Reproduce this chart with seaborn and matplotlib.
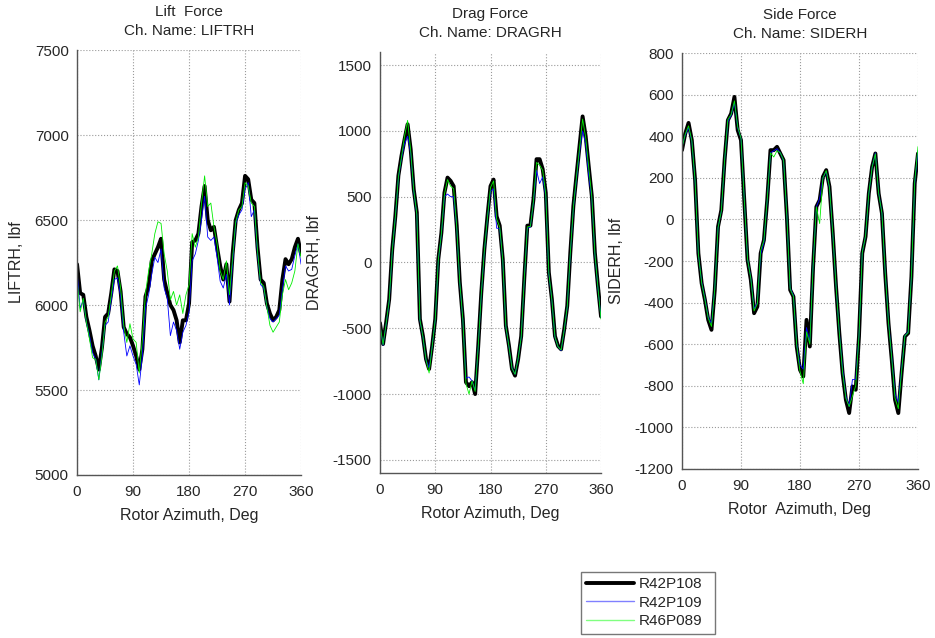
import matplotlib
matplotlib.use("Agg")
import matplotlib.pyplot as plt
from matplotlib.lines import Line2D
import seaborn as sns
import pandas as pd
import numpy as np

# Data (5 deg steps)
azimuth = list(range(0, 361, 5))
runs = ['R42P108', 'R42P109', 'R46P089']

lift_r42p108 = [6240, 6070, 6060, 5930, 5850, 5760, 5700, 5620, 5750, 5930, 5950, 6070, 6210,
                6200, 6080, 5870, 5830, 5810, 5760, 5700, 5620, 5740, 6050, 6110, 6260, 6300,
                6340, 6390, 6150, 6070, 6000, 5970, 5910, 5780, 5910, 5910, 6010, 6370, 6380,
                6420, 6580, 6700, 6500, 6440, 6460, 6340, 6230, 6150, 6240, 6020, 6300, 6500,
                6560, 6600, 6760, 6740, 6620, 6600, 6340, 6150, 6130, 6010, 5950, 5910, 5930,
                5970, 6150, 6270, 6240, 6270, 6340, 6390, 6300]
lift_r42p109 = [6200, 5980, 6030, 5900, 5820, 5720, 5680, 5560, 5720, 5880, 5900, 6030, 6150,
                6160, 6050, 5840, 5700, 5760, 5700, 5650, 5530, 5700, 5980, 6060, 6180, 6280,
                6250, 6330, 6100, 6040, 5820, 5900, 5850, 5740, 5840, 5880, 5960, 6260, 6300,
                6380, 6500, 6640, 6400, 6380, 6400, 6280, 6140, 6100, 6180, 6000, 6250, 6480,
                6530, 6560, 6680, 6720, 6520, 6560, 6300, 6120, 6100, 5990, 5920, 5900, 5920,
                5940, 6090, 6230, 6200, 6210, 6290, 6360, 6240]
lift_r46p089 = [6150, 5960, 6040, 5900, 5800, 5690, 5680, 5560, 5700, 5900, 5930, 6060, 6200,
                6230, 6100, 5880, 5780, 5890, 5800, 5780, 5600, 5800, 6070, 6200, 6300, 6420,
                6490, 6480, 6300, 6200, 6030, 6080, 6000, 6060, 5950, 6060, 6120, 6420, 6340,
                6400, 6600, 6760, 6580, 6600, 6460, 6360, 6200, 6150, 6260, 6060, 6280, 6490,
                6560, 6580, 6720, 6700, 6600, 6580, 6320, 6130, 6110, 5990, 5880, 5840, 5870,
                5900, 6060, 6150, 6090, 6130, 6200, 6360, 6280]

drag_r42p108 = [-460, -620, -457, -280, 100, 350, 660, 810, 935, 1050, 860, 555, 380,
                -430, -560, -735, -810, -635, -430, 25, 225, 530, 645, 620, 580, 280,
                -150, -430, -910, -940, -910, -1000, -635, -230, 100, 350, 580, 630, 350,
                280, 25, -480, -630, -810, -860, -735, -560, -125, 280, 280, 480, 785,
                785, 710, 530, -75, -280, -560, -635, -660, -510, -330, 75, 430, 660,
                885, 1110, 960, 730, 505, 75, -180, -410]
drag_r42p109 = [-480, -630, -470, -300, 80, 340, 640, 790, 900, 960, 830, 540, 360,
                -440, -570, -740, -800, -640, -440, 10, 210, 500, 520, 500, 500, 260,
                -160, -440, -880, -870, -900, -970, -640, -250, 80, 330, 540, 560, 260,
                260, 10, -490, -640, -800, -850, -730, -570, -140, 260, 270, 460, 700,
                600, 650, 500, -90, -290, -570, -640, -670, -520, -340, 60, 410, 630,
                840, 1000, 900, 660, 480, 60, -200, -420]
drag_r46p089 = [-470, -625, -465, -290, 90, 345, 650, 800, 960, 1080, 850, 550, 370,
                -435, -565, -740, -840, -640, -435, 20, 220, 520, 630, 580, 560, 270,
                -155, -435, -920, -1000, -900, -980, -640, -240, 90, 340, 570, 620, 330,
                270, 20, -485, -635, -805, -850, -730, -565, -130, 270, 275, 470, 760,
                740, 700, 520, -80, -285, -565, -640, -665, -515, -335, 70, 420, 650,
                870, 1090, 950, 720, 500, 70, -190, -430]

side_r42p108 = [333, 413, 464, 381, 189, -163, -307, -387, -483, -531, -339, -35, 45,
                285, 477, 509, 589, 429, 381, 93, -195, -291, -451, -419, -163, -99,
                93, 333, 333, 349, 317, 285, 13, -339, -371, -611, -723, -755, -483,
                -611, -227, 61, 93, 205, 237, 157, -67, -323, -547, -739, -867, -931,
                -803, -819, -563, -163, -83, 125, 253, 317, 125, 29, -259, -499, -675,
                -867, -931, -739, -563, -547, -275, 173, 317]
side_r42p109 = [350, 405, 440, 375, 180, -170, -300, -380, -470, -500, -330, -40, 40,
                280, 470, 500, 560, 440, 390, 100, -190, -280, -430, -400, -170, -110,
                90, 320, 330, 340, 320, 280, 20, -330, -365, -600, -700, -720, -520,
                -590, -220, 60, 100, 200, 230, 150, -70, -320, -540, -720, -850, -900,
                -770, -770, -560, -160, -80, 120, 250, 320, 130, 30, -250, -490, -660,
                -840, -880, -720, -560, -540, -270, 170, 330]
side_r46p089 = [345, 410, 450, 380, 185, -165, -305, -385, -475, -515, -335, -40, 40,
                285, 480, 505, 570, 445, 390, 95, -190, -285, -440, -405, -150, -100,
                95, 320, 300, 330, 320, 285, 15, -335, -370, -605, -730, -790, -540,
                -600, -225, 60, -20, 200, 235, 155, -65, -320, -545, -735, -860, -900,
                -850, -800, -560, -160, -80, 125, 250, 315, 125, 30, -255, -495, -670,
                -860, -910, -730, -560, -545, -270, 180, 350]

lift = pd.DataFrame({'az': azimuth * 3,
                     'val': lift_r42p108 + lift_r42p109 + lift_r46p089,
                     'run': np.repeat(runs, len(azimuth))})
drag = pd.DataFrame({'az': azimuth * 3,
                     'val': drag_r42p108 + drag_r42p109 + drag_r46p089,
                     'run': np.repeat(runs, len(azimuth))})
side = pd.DataFrame({'az': azimuth * 3,
                     'val': side_r42p108 + side_r42p109 + side_r46p089,
                     'run': np.repeat(runs, len(azimuth))})

sns.set_style("white")
plt.rcParams['font.family'] = ['Liberation Sans', 'DejaVu Sans']
plt.rcParams['font.size'] = 11
plt.rcParams['axes.unicode_minus'] = False

colors = {'R42P108': '#000000', 'R42P109': '#0000ff', 'R46P089': '#00ee00'}
widths = {'R42P108': 2.8, 'R42P109': 0.6, 'R46P089': 0.6}

fig = plt.figure(figsize=(9.35, 6.38), dpi=100)

panels = [
    (lift, [0.0824, 0.2555, 0.2396, 0.666], 'Lift  Force\nCh. Name: LIFTRH', 'LIFTRH, lbf',
     'Rotor Azimuth, Deg', (5000, 7500), range(5000, 7501, 500)),
    (drag, [0.4064, 0.2586, 0.2364, 0.660], 'Drag Force\nCh. Name: DRAGRH', 'DRAGRH, lbf',
     'Rotor Azimuth, Deg', (-1600, 1600), range(-1500, 1501, 500)),
    (side, [0.7294, 0.2649, 0.2524, 0.652], 'Side Force\nCh. Name: SIDERH', 'SIDERH, lbf',
     'Rotor  Azimuth, Deg', (-1200, 800), range(-1200, 801, 200)),
]

for df, pos, title, ylab, xlab, ylim, yticks in panels:
    ax = fig.add_axes(pos)
    for run in runs:
        sns.lineplot(data=df[df['run'] == run], x='az', y='val', ax=ax,
                     color=colors[run], linewidth=widths[run], legend=False)
    ax.set_xlim(0, 360)
    ax.set_ylim(*ylim)
    ax.set_xticks([0, 90, 180, 270, 360])
    ax.set_yticks(list(yticks))
    ax.set_title(title, fontsize=11, pad=11, linespacing=1.45)
    ax.set_xlabel(xlab, fontsize=11.5, labelpad=7)
    ax.set_ylabel(ylab, fontsize=11.5, labelpad=8)
    ax.grid(True, linestyle=':', color='#9a9a9a', linewidth=0.8)
    for s in ['top', 'right']:
        ax.spines[s].set_visible(False)
    for s in ['left', 'bottom']:
        ax.spines[s].set_color('#555555')
        ax.spines[s].set_linewidth(1.0)
    ax.tick_params(direction='in', length=3, color='#555555', labelsize=11)
    ax.tick_params(axis='x', pad=7)
    ax.tick_params(axis='y', pad=6)

handles = [Line2D([], [], color='#000000', linewidth=2.8),
           Line2D([], [], color='#8080ff', linewidth=1.0),
           Line2D([], [], color='#80ff80', linewidth=1.0)]
fig.legend(handles, runs, loc='lower left', bbox_to_anchor=(0.618, 0.002, 0.15, 0.112),
           mode='expand', fontsize=11, frameon=True, fancybox=False, edgecolor='#555555',
           handlelength=3.1, borderaxespad=0.2, labelspacing=0.3, borderpad=0.35,
           handletextpad=0.35)

fig.savefig("out.png", dpi=100)
